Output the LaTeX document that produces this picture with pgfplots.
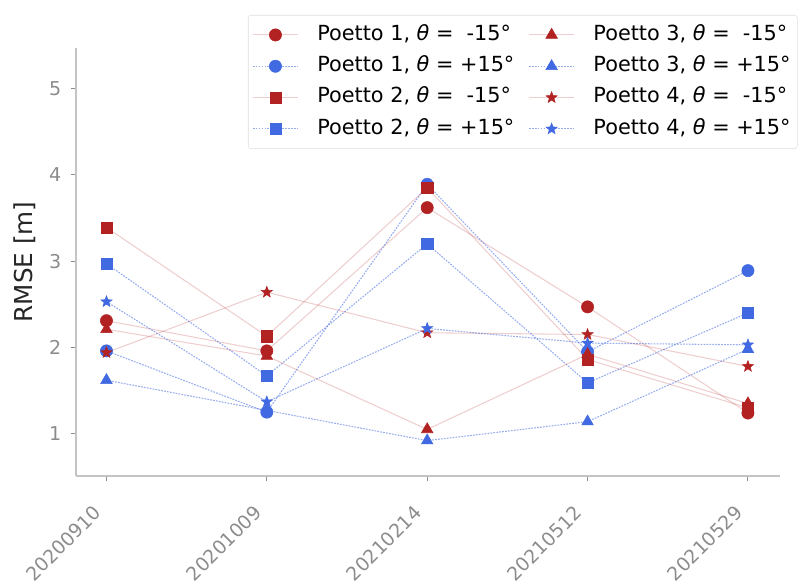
\documentclass[border=0pt]{standalone}
\usepackage{pgfplots}
\pgfplotsset{compat=1.18}
\usepackage{pgfplotstable}
\usepackage{fontspec}
\setmainfont{DejaVu Sans}

\definecolor{fb}{HTML}{B22222}
\definecolor{rb}{HTML}{4169E1}
\definecolor{tickgray}{HTML}{8C8C8C}
\definecolor{spinegray}{HTML}{C4C4C4}

% filled five-pointed star
\pgfdeclareplotmark{fstar}{%
  \pgfpathmoveto{\pgfpointpolar{90}{\pgfplotmarksize}}%
  \pgfpathlineto{\pgfpointpolar{126}{0.42\pgfplotmarksize}}%
  \pgfpathlineto{\pgfpointpolar{162}{\pgfplotmarksize}}%
  \pgfpathlineto{\pgfpointpolar{198}{0.42\pgfplotmarksize}}%
  \pgfpathlineto{\pgfpointpolar{234}{\pgfplotmarksize}}%
  \pgfpathlineto{\pgfpointpolar{270}{0.42\pgfplotmarksize}}%
  \pgfpathlineto{\pgfpointpolar{306}{\pgfplotmarksize}}%
  \pgfpathlineto{\pgfpointpolar{342}{0.42\pgfplotmarksize}}%
  \pgfpathlineto{\pgfpointpolar{18}{\pgfplotmarksize}}%
  \pgfpathlineto{\pgfpointpolar{54}{0.42\pgfplotmarksize}}%
  \pgfpathclose
  \pgfusepathqfillstroke}

\pgfplotsset{
  neg/.style={draw=fb, draw opacity=0.22, line width=0.8pt, solid,
    mark options={draw=fb, fill=fb, draw opacity=1, fill opacity=1, solid, line width=0.4pt}},
  pos/.style={draw=rb, draw opacity=0.55, line width=0.8pt, dash pattern=on 1.3pt off 0.9pt,
    mark options={draw=rb, fill=rb, draw opacity=1, fill opacity=1, solid, line width=0.4pt}},
  mcirc/.style={mark=*, mark size=4.6pt},
  msq/.style={mark=square*, mark size=4.2pt},
  mtri/.style={mark=triangle*, mark size=5pt},
  mstar/.style={mark=fstar, mark size=4.4pt},
}

% RMSE per survey date (x = date index)
\pgfplotstableread{
x  p1n  p1p  p2n  p2p  p3n  p3p  p4n  p4p
0  2.31 1.96 3.39 2.97 2.21 1.62 1.94 2.53
1  1.96 1.25 2.13 1.67 1.90 1.27 2.64 1.37
2  3.62 3.89 3.85 3.20 1.05 0.92 2.17 2.22
3  2.47 1.95 1.86 1.59 1.92 1.14 2.15 2.05
4  1.24 2.89 1.30 2.40 1.35 1.98 1.78 2.03
}\rmse

\begin{document}
\begin{tikzpicture}
\useasboundingbox (-57pt,-81.75pt) rectangle (541.5pt,357pt);
\begin{axis}[
  at={(0,0)}, anchor=south west,
  scale only axis, width=528pt, height=321pt,
  xmin=-0.19, xmax=4.2, ymin=0.51, ymax=5.47,
  axis x line*=bottom, axis y line*=left,
  axis line style={spinegray, line width=1.2pt, -},
  xtick={0,...,4},
  xticklabels={20200910,20201009,20210214,20210512,20210529},
  ytick={1,...,5},
  tick align=outside, major tick length=4pt,
  tick style={tickgray, line width=0.8pt},
  /pgf/number format/assume math mode=true,
  xticklabel style={rotate=45, anchor=north east, text=tickgray,
    xshift=-16pt, yshift=-1pt,
    font=\fontsize{14.2}{17}\selectfont},
  yticklabel style={text=tickgray, xshift=-3.5pt,
    font=\fontsize{14.3}{17}\selectfont},
  ylabel={RMSE [m]},
  ylabel style={at={(axis description cs:-0.0724,0.5)}, anchor=center,
    text=black!85, font=\fontsize{18.5}{22}\selectfont},
  legend columns=2,
  legend cell align=left,
  legend image code/.code={\draw[mark repeat=2,mark phase=2]
    plot coordinates {(0pt,0pt) (17pt,0pt) (34pt,0pt)};},
  legend style={at={(axis description cs:0.2443,1.0771)}, anchor=north west,
    draw=black!13, rounded corners=2pt, fill=white,
    font=\fontsize{15.6}{18}\selectfont,
    inner xsep=3pt, inner ysep=3pt,
    nodes={inner xsep=2pt, inner ysep=4pt, text height=11.7pt, text depth=3.8pt},
    /tikz/every odd column/.append style={column sep=12pt},
    /tikz/every even column/.append style={column sep=8.5pt}},
]
\addplot[neg, mcirc, forget plot] table[x=x, y=p1n] {\rmse};
\addplot[pos, mcirc, forget plot] table[x=x, y=p1p] {\rmse};
\addplot[neg, msq,   forget plot] table[x=x, y=p2n] {\rmse};
\addplot[pos, msq,   forget plot] table[x=x, y=p2p] {\rmse};
\addplot[neg, mtri,  forget plot] table[x=x, y=p3n] {\rmse};
\addplot[pos, mtri,  forget plot] table[x=x, y=p3p] {\rmse};
\addplot[neg, mstar, forget plot] table[x=x, y=p4n] {\rmse};
\addplot[pos, mstar, forget plot] table[x=x, y=p4p] {\rmse};

\addlegendimage{neg, mcirc}
\addlegendentry{Poetto 1, \textit{θ} =\ \ -15°}
\addlegendimage{neg, mtri}
\addlegendentry{Poetto 3, \textit{θ} =\ \ -15°}
\addlegendimage{pos, mcirc}
\addlegendentry{Poetto 1, \textit{θ} = +15°}
\addlegendimage{pos, mtri}
\addlegendentry{Poetto 3, \textit{θ} = +15°}
\addlegendimage{neg, msq}
\addlegendentry{Poetto 2, \textit{θ} =\ \ -15°}
\addlegendimage{neg, mstar}
\addlegendentry{Poetto 4, \textit{θ} =\ \ -15°}
\addlegendimage{pos, msq}
\addlegendentry{Poetto 2, \textit{θ} = +15°}
\addlegendimage{pos, mstar}
\addlegendentry{Poetto 4, \textit{θ} = +15°}
\end{axis}
\end{tikzpicture}
\end{document}
